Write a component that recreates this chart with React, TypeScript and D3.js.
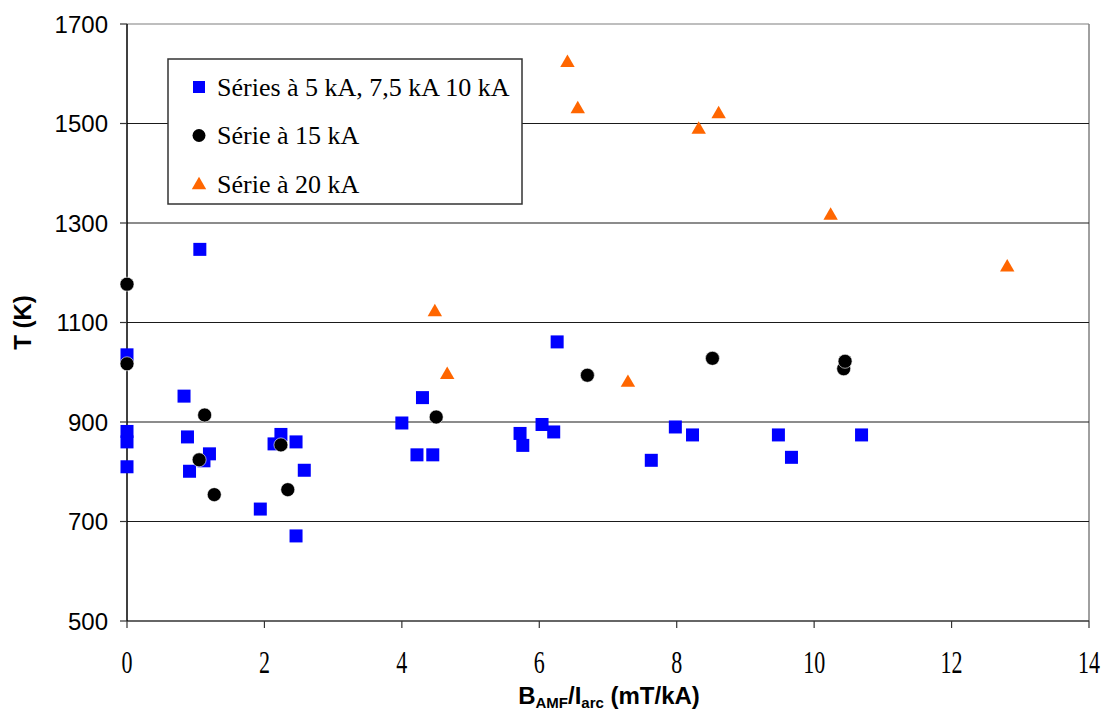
import React from "react";
import * as d3 from "d3";

const blueX = [0, 0, 0, 0, 1.06, 0.83, 0.88, 1.2, 1.12, 0.91, 1.94, 2.46, 2.24, 2.14, 2.46, 2.58, 4.3, 4.0, 4.22, 4.45, 6.26, 5.72, 5.76, 6.04, 6.21, 7.98, 7.63, 8.23, 9.48, 9.67, 10.69];
const blueY = [1035, 881, 860, 810, 1247, 952, 870, 836, 822, 801, 725, 671, 875, 856, 860, 803, 949, 898, 834, 834, 1061, 877, 853, 895, 880, 890, 823, 874, 874, 829, 874];

const blackX = [0, 0, 1.13, 1.05, 1.27, 2.24, 2.34, 4.5, 6.7, 8.52, 10.43, 10.45];
const blackY = [1177, 1017, 914, 824, 754, 854, 764, 910, 994, 1028, 1007, 1022];

const orangeX = [6.41, 6.56, 8.32, 8.61, 10.24, 12.81, 4.48, 4.66, 7.29];
const orangeY = [1624, 1531, 1490, 1521, 1317, 1213, 1123, 997, 981];

const xTicks = [0, 2, 4, 6, 8, 10, 12, 14];
const yTicks = [500, 700, 900, 1100, 1300, 1500, 1700];
const legendLabels = ["Séries à 5 kA, 7,5 kA 10 kA", "Série à 15 kA", "Série à 20 kA"];

const W = 1107;
const H = 715;
const left = 127;
const right = 1089;
const top = 24;
const bottom = 621;

const BLUE = "#0000ff";
const BLACK = "#000000";
const ORANGE = "#ff6600";

export default function App() {
  const x = d3.scaleLinear().domain([0, 14]).range([left, right]);
  const y = d3.scaleLinear().domain([500, 1700]).range([bottom, top]);
  const tri = d3.symbol().type(d3.symbolTriangle).size(90)();

  const square = (cx: number, cy: number, k: string) => (
    <rect key={k} x={cx - 6.5} y={cy - 6.5} width={13} height={13} fill={BLUE} />
  );
  const circle = (cx: number, cy: number, k: string) => (
    <circle key={k} cx={cx} cy={cy} r={7} fill={BLACK} stroke="#ffffff" strokeWidth={0.6} />
  );
  const triangle = (cx: number, cy: number, k: string) => (
    <path key={k} d={tri as string} transform={`translate(${cx},${cy + 1})`} fill={ORANGE} />
  );

  return (
    <svg width={W} height={H} style={{ position: "absolute", left: 0, top: 0, background: "#fff" }}>
      {/* plot border */}
      <line x1={left} x2={right} y1={top} y2={top} stroke="#a8a8a8" strokeWidth={1.5} />
      <line x1={right} x2={right} y1={top} y2={bottom} stroke="#808080" strokeWidth={1.5} />
      {/* gridlines */}
      {yTicks.filter((t) => t !== 500 && t !== 1700).map((t) => (
        <line key={"g" + t} x1={left} x2={right} y1={y(t)} y2={y(t)} stroke="#1a1a1a" strokeWidth={1.2} />
      ))}
      {/* axes */}
      <line x1={left} x2={right} y1={bottom} y2={bottom} stroke="#333" strokeWidth={1.5} />
      <line x1={left} x2={left} y1={top} y2={bottom} stroke="#000" strokeWidth={1.5} />
      {yTicks.map((t) => (
        <g key={"yt" + t}>
          <line x1={left - 7} x2={left} y1={y(t)} y2={y(t)} stroke="#333" strokeWidth={1.2} />
          <text x={108} y={y(t)} dy="0.36em" textAnchor="end" fontFamily="Liberation Sans, Arial, sans-serif" fontSize={24} fill="#000">
            {t}
          </text>
        </g>
      ))}
      {xTicks.map((t) => (
        <g key={"xt" + t}>
          <line x1={x(t)} x2={x(t)} y1={bottom} y2={bottom + 7} stroke="#333" strokeWidth={1.2} />
          <text
            transform={`translate(${x(t)},${673}) scale(1,1.4)`}
            textAnchor="middle"
            fontFamily="Liberation Serif, 'Times New Roman', serif"
            fontSize={22}
            fill="#000"
          >
            {t}
          </text>
        </g>
      ))}
      {/* axis titles */}
      <text
        transform={`translate(31,${(top + bottom) / 2}) rotate(-90)`}
        textAnchor="middle"
        fontFamily="Liberation Sans, Arial, sans-serif"
        fontWeight="bold"
        fontSize={24}
        fill="#000"
      >
        T (K)
      </text>
      <text x={609} y={704} textAnchor="middle" fontFamily="Liberation Sans, Arial, sans-serif" fontWeight="bold" fontSize={24} fill="#000">
        B<tspan fontSize={15} dy={4}>AMF</tspan>
        <tspan dy={-4}>/I</tspan>
        <tspan fontSize={15} dy={4}>arc</tspan>
        <tspan dy={-4}> (mT/kA)</tspan>
      </text>
      {/* data */}
      {blueX.map((v, i) => square(x(v), y(blueY[i]), "b" + i))}
      {blackX.map((v, i) => circle(x(v), y(blackY[i]), "k" + i))}
      {orangeX.map((v, i) => triangle(x(v), y(orangeY[i]), "o" + i))}
      {/* legend */}
      <rect x={168} y={59} width={354} height={145} fill="#fff" stroke="#333" strokeWidth={1.5} />
      {legendLabels.map((lab, i) => {
        const cy = 87 + i * 48.5;
        const cx = 199;
        return (
          <g key={"l" + i}>
            {i === 0 && <rect x={cx - 6} y={cy - 6} width={12} height={12} fill={BLUE} />}
            {i === 1 && <circle cx={cx} cy={cy} r={6.5} fill={BLACK} />}
            {i === 2 && <path d={tri as string} transform={`translate(${cx},${cy + 1})`} fill={ORANGE} />}
            <text x={217} y={cy} dy="0.33em" fontFamily="Liberation Serif, 'Times New Roman', serif" fontSize={26} fill="#000">
              {lab}
            </text>
          </g>
        );
      })}
    </svg>
  );
}
